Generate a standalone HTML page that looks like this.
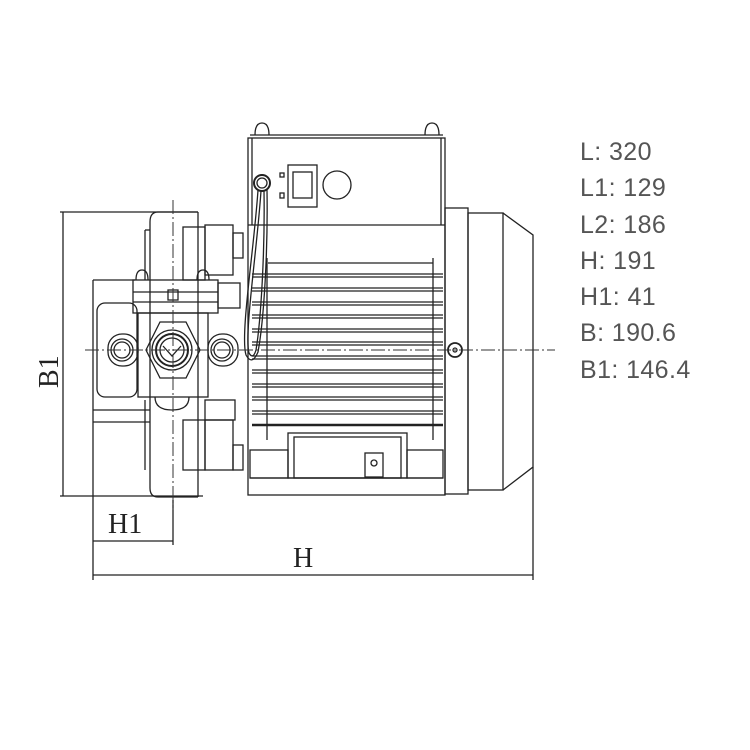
<!DOCTYPE html>
<html><head><style>
body{margin:0;background:#fff;width:750px;height:750px;overflow:hidden}
svg{display:block}
</style></head><body>
<svg width="750" height="750" viewBox="0 0 750 750" xmlns="http://www.w3.org/2000/svg">
<g fill="none" stroke="#222" stroke-width="1.3">
<line x1="60" y1="212" x2="198" y2="212"/>
<line x1="60" y1="496" x2="203" y2="496"/>
<line x1="63" y1="212" x2="63" y2="496"/>
<line x1="93" y1="280" x2="93" y2="580"/>
<line x1="173" y1="500" x2="173" y2="545"/>
<line x1="533" y1="467" x2="533" y2="580"/>
<line x1="93" y1="541" x2="173" y2="541"/>
<line x1="93" y1="575" x2="533" y2="575"/>
<line x1="93" y1="280" x2="135" y2="280"/>
<rect x="97" y="303" width="40" height="94" rx="8"/>
<line x1="93" y1="410" x2="150" y2="410"/>
<line x1="93" y1="422" x2="150" y2="422"/>
<path d="M198 212 H158 Q150 212 150 222 V488 Q150 497 158 497 H198"/>
<line x1="198" y1="212" x2="198" y2="497"/>
<line x1="145" y1="230" x2="150" y2="230"/><line x1="145" y1="230" x2="145" y2="280"/>
<line x1="145" y1="400" x2="145" y2="470"/>
<rect x="183" y="227" width="22" height="53"/>
<rect x="205" y="225" width="28" height="50"/>
<rect x="233" y="233" width="10" height="25"/>
<rect x="183" y="420" width="22" height="50"/>
<rect x="205" y="420" width="28" height="50"/>
<rect x="233" y="445" width="10" height="25"/>
<rect x="205" y="400" width="30" height="20"/>
<rect x="133" y="280" width="85" height="33"/>
<line x1="133" y1="292" x2="218" y2="292"/>
<line x1="133" y1="302" x2="218" y2="302"/>
<rect x="168" y="290" width="10" height="10"/>
<path d="M136 280 Q136 270 142 270 Q148 270 148 280"/>
<path d="M197 280 Q197 270 203 270 Q209 270 209 280"/>
<rect x="218" y="283" width="22" height="25"/>
<rect x="138" y="313" width="70" height="84"/>
<polygon points="160,322 186,322 200,350 186,378 160,378 146,350"/>
<circle cx="172" cy="350" r="20"/>
<circle cx="172" cy="350" r="16" stroke-width="2"/>
<circle cx="172" cy="350" r="12"/>
<path d="M163 346 L172 356 L181 346"/>
<path d="M155 397 Q155 410 172 410 Q189 410 189 397"/>
<rect x="108" y="334" width="30" height="32" rx="14"/>
<circle cx="122" cy="350" r="11"/>
<circle cx="122" cy="350" r="8"/>
<rect x="208" y="334" width="30" height="32" rx="14"/>
<circle cx="222" cy="350" r="11"/>
<circle cx="222" cy="350" r="8"/>
<rect x="248" y="138" width="197" height="357"/>
<line x1="248" y1="225" x2="445" y2="225"/>
<line x1="252" y1="138" x2="252" y2="225"/>
<line x1="441" y1="138" x2="441" y2="225"/>
<line x1="250" y1="135" x2="443" y2="135"/>
<path d="M255 135 Q255 123 262 123 Q269 123 269 135"/>
<path d="M425 135 Q425 123 432 123 Q439 123 439 135"/>
<rect x="288" y="165" width="29" height="42"/>
<rect x="293" y="172" width="19" height="26"/>
<rect x="280" y="173" width="4" height="4"/>
<rect x="280" y="193" width="4" height="5"/>
<circle cx="337" cy="185" r="14"/>
<circle cx="262" cy="183" r="8" stroke-width="2"/>
<circle cx="262" cy="183" r="5"/>
<path d="M258 190 C254 250 240 335 246 355 Q252 366 258 352 C264 320 268 250 267 190"/>
<path d="M261 191 C257 250 244 335 249 353 Q253 360 256 350 C261 320 265 250 264 191"/>
<line x1="267" y1="258" x2="267" y2="440"/>
<line x1="433" y1="258" x2="433" y2="440"/>
<line x1="268" y1="263" x2="433" y2="263"/>
<g stroke-width="1.2">
<line x1="252" y1="274" x2="443" y2="274"/><line x1="252" y1="277" x2="443" y2="277"/>
<line x1="252" y1="288" x2="443" y2="288"/><line x1="252" y1="291" x2="443" y2="291"/>
<line x1="252" y1="302" x2="443" y2="302"/><line x1="252" y1="305" x2="443" y2="305"/>
<line x1="252" y1="315" x2="443" y2="315"/><line x1="252" y1="318" x2="443" y2="318"/>
<line x1="252" y1="329" x2="443" y2="329"/><line x1="252" y1="332" x2="443" y2="332"/>
<line x1="252" y1="342" x2="443" y2="342"/><line x1="252" y1="345" x2="443" y2="345"/>
<line x1="252" y1="356" x2="443" y2="356"/><line x1="252" y1="359" x2="443" y2="359"/>
<line x1="252" y1="370" x2="443" y2="370"/><line x1="252" y1="373" x2="443" y2="373"/>
<line x1="252" y1="384" x2="443" y2="384"/><line x1="252" y1="387" x2="443" y2="387"/>
<line x1="252" y1="397" x2="443" y2="397"/><line x1="252" y1="400" x2="443" y2="400"/>
<line x1="252" y1="411" x2="443" y2="411"/><line x1="252" y1="414" x2="443" y2="414"/>
<line x1="252" y1="425" x2="443" y2="425" stroke-width="2.5"/>
</g>
<line x1="250" y1="478" x2="443" y2="478"/>
<rect x="288" y="433" width="119" height="45"/>
<rect x="294" y="437" width="107" height="41"/>
<rect x="365" y="453" width="18" height="24"/>
<circle cx="374" cy="463" r="3"/>
<rect x="250" y="450" width="38" height="28"/>
<rect x="407" y="450" width="36" height="28"/>
<rect x="445" y="208" width="23" height="286"/>
<rect x="468" y="213" width="35" height="277"/>
<path d="M503 213 L533 235 V467 L503 490"/>
<circle cx="455" cy="350" r="7" stroke-width="1.8"/>
<circle cx="455" cy="350" r="2"/>
</g>
<g stroke="#333" stroke-width="1" stroke-dasharray="14,3,2,3" fill="none">
<line x1="85" y1="350" x2="555" y2="350"/>
<line x1="173" y1="200" x2="173" y2="510"/>
</g>
<g font-family="Liberation Serif, serif" fill="#222" font-size="28">
<text x="108" y="533">H1</text>
<text x="293" y="567">H</text>
<text transform="translate(58,388) rotate(-90)">B1</text>
</g>
<g font-family="Liberation Sans, sans-serif" fill="#555" font-size="25" letter-spacing="0.4">
<text x="580" y="160">L: 320</text>
<text x="580" y="196">L1: 129</text>
<text x="580" y="233">L2: 186</text>
<text x="580" y="269">H: 191</text>
<text x="580" y="305">H1: 41</text>
<text x="580" y="341">B: 190.6</text>
<text x="580" y="378">B1: 146.4</text>
</g>
</svg>
</body></html>
